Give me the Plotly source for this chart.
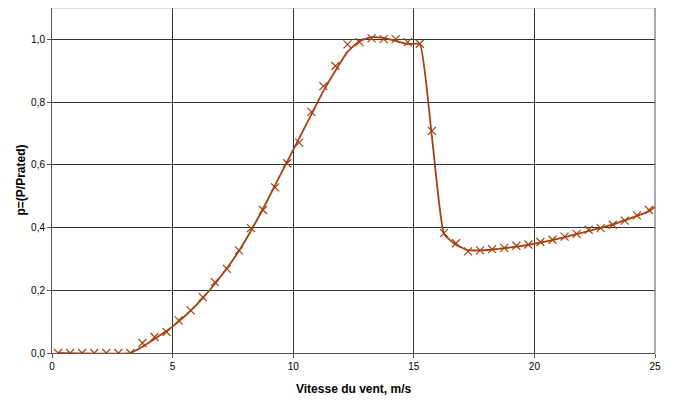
import plotly.graph_objects as go

# measured points (markers)
mx = [0.25, 0.75, 1.25, 1.75, 2.25, 2.75, 3.25, 3.75, 4.25, 4.75, 5.25, 5.75, 6.25, 6.75,
      7.25, 7.75, 8.25, 8.75, 9.25, 9.75, 10.25, 10.75, 11.25, 11.75, 12.25, 12.75, 13.25,
      13.75, 14.25, 14.75, 15.25, 15.75, 16.25, 16.75, 17.25, 17.75, 18.25, 18.75, 19.25,
      19.75, 20.25, 20.75, 21.25, 21.75, 22.25, 22.75, 23.25, 23.75, 24.25, 24.75]
my = [0, 0, 0, 0, 0, 0, 0, 0.032, 0.051, 0.067, 0.104, 0.136, 0.178, 0.226,
      0.268, 0.327, 0.398, 0.456, 0.528, 0.605, 0.671, 0.769, 0.851, 0.915, 0.984, 0.991, 1.003,
      1.001, 1.001, 0.991, 0.986, 0.708, 0.382, 0.350, 0.324, 0.327, 0.331, 0.335, 0.342,
      0.346, 0.354, 0.361, 0.371, 0.380, 0.393, 0.398, 0.409, 0.422, 0.439, 0.456]

# fitted curve (line)
lx = [0.25, 3.25, 3.75, 4.25, 4.75, 5.25, 5.75, 6.25, 6.75, 7.25, 7.75, 8.25, 8.75, 9.25,
      9.75, 10.25, 10.75, 11.25, 11.75, 12.25, 12.75, 13.25, 13.75, 14.25, 14.75, 15.25,
      15.75, 16.25, 16.75, 17.25, 17.75, 18.25, 18.75, 19.25, 19.75, 20.25, 20.75, 21.25,
      21.75, 22.25, 22.75, 23.25, 23.75, 24.25, 24.75, 25.0]
ly = [0, 0, 0.02, 0.045, 0.07, 0.1, 0.135, 0.175, 0.22, 0.27, 0.325, 0.39, 0.46, 0.535,
      0.61, 0.685, 0.76, 0.835, 0.9, 0.96, 0.995, 1.007, 1.005, 0.995, 0.985, 0.985,
      0.69, 0.38, 0.345, 0.328, 0.327, 0.330, 0.334, 0.339, 0.345, 0.352, 0.360, 0.369,
      0.379, 0.389, 0.399, 0.410, 0.423, 0.437, 0.452, 0.466]

xticks = [0, 5, 10, 15, 20, 25]
yticks = [0, 0.2, 0.4, 0.6, 0.8, 1.0]
x_title = "Vitesse du vent, m/s"
y_title = "p=(P/Prated)"

color = "#A8400E"

fig = go.Figure()
fig.add_trace(go.Scatter(x=lx, y=ly, mode="lines",
                         line=dict(color=color, width=1.8, shape="spline", smoothing=0.4),
                         hoverinfo="skip", showlegend=False))
fig.add_trace(go.Scatter(x=mx, y=my, mode="markers",
                         marker=dict(symbol="x-thin-open", size=8,
                                     line=dict(color=color, width=1.2), color=color),
                         showlegend=False))

# page body has an 8px offset; margins compensate
fig.update_layout(
    width=683, height=405,
    margin=dict(l=44, r=36, t=0, b=60, autoexpand=False),
    paper_bgcolor="white", plot_bgcolor="white",
    separators=", ",
    font=dict(family="Liberation Sans, Arial, sans-serif", size=10, color="black"),
)
fig.update_xaxes(range=[0, 25], tickvals=xticks, ticks="outside", ticklen=4,
                 tickcolor="#555", showline=True, linecolor="#555", linewidth=1,
                 mirror=False, showgrid=True, gridcolor="#333", gridwidth=1,
                 zeroline=False, automargin=False)
fig.update_yaxes(range=[0, 1.1], tickvals=yticks, tickformat=".1f", ticks="outside",
                 ticklen=4, tickcolor="#555", showline=True, linecolor="#555", linewidth=1,
                 showgrid=True, gridcolor="#333", gridwidth=1, zeroline=False,
                 automargin=False)
fig.add_annotation(text="<b>" + x_title + "</b>", xref="paper", yref="paper",
                   x=0.5, y=0, xanchor="center", yanchor="middle", yshift=-36,
                   showarrow=False, font=dict(size=12))
fig.add_annotation(text="<b>" + y_title + "</b>", xref="paper", yref="paper",
                   x=0, y=0.5, xanchor="center", yanchor="middle", xshift=-32,
                   textangle=-90, showarrow=False, font=dict(size=12))
# frame on top/right
fig.add_shape(type="line", xref="paper", yref="paper", x0=0, x1=1, y0=1, y1=1,
              line=dict(color="#bbb", width=1))
fig.add_shape(type="line", xref="paper", yref="paper", x0=1, x1=1, y0=0, y1=1,
              line=dict(color="#555", width=1))

fig.write_html("out.html")
